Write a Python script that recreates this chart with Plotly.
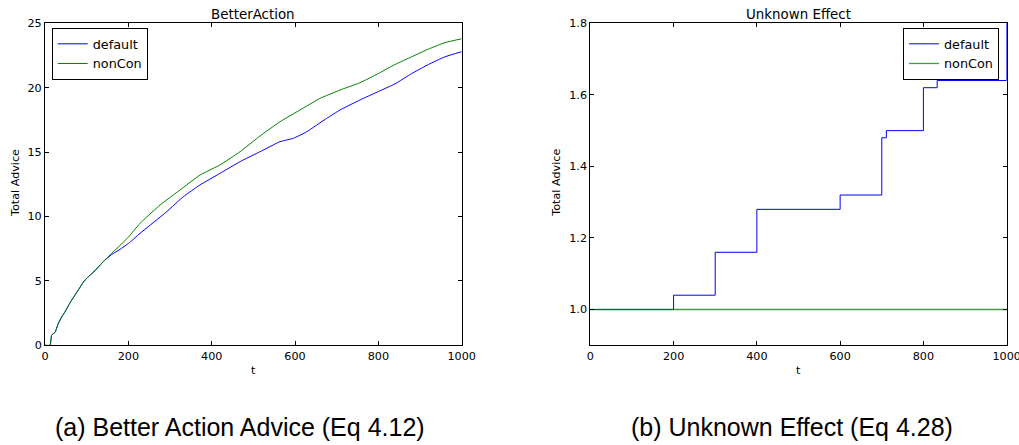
import plotly.graph_objects as go

# --- BetterAction: cumulative advice over time ---
ba_default_t = [0, 12, 16, 24, 32, 40, 48, 60, 72, 80, 92, 100, 120, 140, 160, 180,
                200, 228, 292, 332, 372, 420, 468, 516, 564, 596, 628, 676, 708, 756,
                800, 840, 880, 920, 960, 1000]
ba_default = [0, 0, 0.8, 1.0, 1.7, 2.2, 2.6, 3.3, 3.9, 4.3, 4.9, 5.2, 5.8, 6.5,
              7.05, 7.45, 7.9, 8.69, 10.37, 11.54, 12.45, 13.35, 14.26, 15.03, 15.81,
              16.07, 16.58, 17.62, 18.27, 19.05, 19.7, 20.3, 21.1, 21.8, 22.4, 22.8]

ba_noncon_t = [0, 12, 16, 24, 32, 40, 48, 60, 72, 80, 92, 100, 120, 140, 160, 180,
               200, 228, 276, 324, 372, 420, 468, 516, 564, 612, 660, 708, 756, 800,
               840, 880, 920, 960, 1000]
ba_noncon = [0, 0, 0.8, 1.0, 1.7, 2.2, 2.6, 3.3, 3.9, 4.3, 4.9, 5.2, 5.8, 6.5,
             7.15, 7.75, 8.4, 9.47, 10.89, 12.06, 13.22, 14.0, 15.03, 16.25, 17.36,
             18.27, 19.17, 19.82, 20.39, 21.1, 21.8, 22.4, 23.0, 23.5, 23.8]

# --- Unknown Effect: step-wise advice totals ---
ue_t = [0, 200, 300, 400, 600, 700, 711, 800, 833, 999, 1000]
ue_default = [1.0, 1.04, 1.16, 1.28, 1.32, 1.48, 1.50, 1.62, 1.64, 1.64, 1.84]
ue_noncon_t = [0, 1000]
ue_noncon = [1.0, 1.0]

x_ticks = [0, 200, 400, 600, 800, 1000]
ba_y_ticks = [0, 5, 10, 15, 20, 25]
ue_y_ticks = [1.0, 1.2, 1.4, 1.6, 1.8]
ue_y_labels = ["1.0", "1.2", "1.4", "1.6", "1.8"]

W, H = 1019, 445
BLUE = "#0000ff"
GREEN = "#008000"
FONT = "DejaVu Sans"

fig = go.Figure()
fig.add_trace(go.Scatter(x=ba_default_t, y=ba_default, mode="lines", name="default",
                         line=dict(color=BLUE, width=1, shape="spline", smoothing=0.4),
                         xaxis="x", yaxis="y", legend="legend"))
fig.add_trace(go.Scatter(x=ba_noncon_t, y=ba_noncon, mode="lines", name="nonCon",
                         line=dict(color=GREEN, width=1, shape="spline", smoothing=0.4),
                         xaxis="x", yaxis="y", legend="legend"))
fig.add_trace(go.Scatter(x=ue_t, y=ue_default, mode="lines", name="default",
                         line=dict(color=BLUE, width=1, shape="hv"),
                         xaxis="x2", yaxis="y2", legend="legend2"))
fig.add_trace(go.Scatter(x=ue_noncon_t, y=ue_noncon, mode="lines", name="nonCon",
                         line=dict(color=GREEN, width=1.3), opacity=0.75,
                         xaxis="x2", yaxis="y2", legend="legend2"))

left_dom = [45 / W, 461.7 / W]
right_dom = [590.3 / W, 1006.7 / W]
y_dom = [1 - 345.3 / H, 1 - 23.3 / H]

axis_common = dict(
    showline=True, linecolor="black", linewidth=1, mirror="allticks",
    ticks="inside", ticklen=4, tickcolor="black", tickwidth=1,
    showgrid=False, zeroline=False, automargin=False,
    ticklabeloverflow="allow",
    tickfont=dict(family=FONT, size=11.2, color="black"),
)

legend_common = dict(
    yanchor="top", bordercolor="black", borderwidth=1, bgcolor="white",
    itemwidth=30, tracegroupgap=0,
    font=dict(family=FONT, size=12.8, color="black"),
)

fig.update_layout(
    width=W, height=H, autosize=False,
    margin=dict(l=0, r=0, t=0, b=0, pad=0, autoexpand=False),
    paper_bgcolor="white", plot_bgcolor="white",
    xaxis=dict(domain=left_dom, range=[0, 1000], tickvals=x_ticks,
               anchor="y", **axis_common),
    yaxis=dict(domain=y_dom, range=[0, 25], tickvals=ba_y_ticks,
               anchor="x", **axis_common),
    xaxis2=dict(domain=right_dom, range=[0, 1000], tickvals=x_ticks,
                anchor="y2", **axis_common),
    yaxis2=dict(domain=y_dom, range=[0.9, 1.8], tickvals=ue_y_ticks,
                ticktext=ue_y_labels, anchor="x2", **axis_common),
    legend=dict(x=51.7 / W, y=1 - 28 / H, xanchor="left", **legend_common),
    legend2=dict(x=999 / W, y=1 - 28 / H, xanchor="right", **legend_common),
)

annotations = [
    # panel titles
    dict(text="BetterAction", x=sum(left_dom) / 2, y=1 - 14.7 / H),
    dict(text="Unknown Effect", x=sum(right_dom) / 2, y=1 - 14.7 / H),
    # x-axis labels
    dict(text="t", x=sum(left_dom) / 2, y=1 - 370 / H, size=11.2),
    dict(text="t", x=sum(right_dom) / 2, y=1 - 370 / H, size=11.2),
    # y-axis labels
    dict(text="Total Advice", x=16 / W, y=1 - 183 / H, size=11.2, angle=-90),
    dict(text="Total Advice", x=556.7 / W, y=1 - 183 / H, size=11.2, angle=-90),
]
for a in annotations:
    fig.add_annotation(
        text=a["text"], x=a["x"], y=a["y"], xref="paper", yref="paper",
        xanchor="center", yanchor="middle", showarrow=False,
        textangle=a.get("angle", 0),
        font=dict(family=FONT, size=a.get("size", 13.4), color="black"),
    )

# sub-figure captions
for text, cx in [("(a) Better Action Advice (Eq 4.12)", 240),
                 ("(b) Unknown Effect (Eq 4.28)", 792)]:
    fig.add_annotation(
        text=text, x=cx / W, y=1 - 427 / H, xref="paper", yref="paper",
        xanchor="center", yanchor="middle", showarrow=False,
        font=dict(family="Liberation Sans", size=25, color="black"),
    )

fig.write_html("out.html")
